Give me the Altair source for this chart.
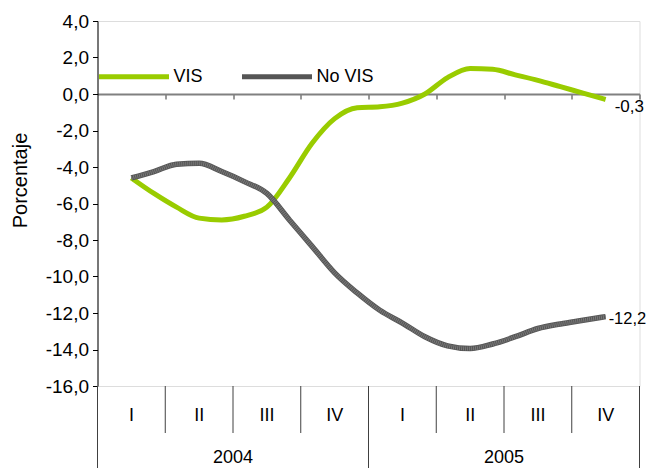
import altair as alt
import pandas as pd

# ---- data ----
series_names = ["VIS", "No VIS"]
quarter_labels = ["I", "II", "III", "IV", "I", "II", "III", "IV"]
quarter_centers = [0.5, 1.5, 2.5, 3.5, 4.5, 5.5, 6.5, 7.5]
year_labels = ["2004", "2005"]
year_centers = [2, 6]
quarter_bounds = [1, 2, 3, 5, 6, 7]
year_bounds = [0, 4, 8]
# positions in quarter units (monthly steps, Q1-2004 centre .. Q4-2005 centre)
positions = [0.5, 0.833, 1.167, 1.5, 1.833, 2.167, 2.5, 2.833, 3.167, 3.5, 3.833,
             4.167, 4.5, 4.833, 5.167, 5.5, 5.833, 6.167, 6.5, 6.833, 7.167, 7.5]
vis = [-4.6, -5.45, -6.2, -6.8, -6.9, -6.7, -6.2, -4.6, -2.7, -1.35, -0.75,
       -0.7, -0.5, 0.0, 0.9, 1.4, 1.35, 1.05, 0.75, 0.4, 0.05, -0.3]
no_vis = [-4.6, -4.25, -3.85, -3.8, -4.25, -4.8, -5.45, -6.9, -8.35, -9.8, -10.9,
          -11.85, -12.55, -13.3, -13.8, -13.95, -13.7, -13.3, -12.85, -12.6, -12.4, -12.2]
y_ticks = [-16, -14, -12, -10, -8, -6, -4, -2, 0, 2, 4]

GREEN = "#99CC00"
GRAY = "#555555"
FONT = "Liberation Sans"

def fmt(v):
    return f"{v:.1f}".replace(".", ",")

df = pd.DataFrame({
    "pos": positions * 2,
    "value": vis + no_vis,
    "series": ["VIS"] * len(vis) + ["No VIS"] * len(no_vis),
})
ends = pd.DataFrame({
    "pos": [positions[-1], positions[-1]],
    "value": [vis[-1], no_vis[-1]],
    "series": series_names,
    "label": [fmt(vis[-1]), fmt(no_vis[-1])],
})
qdf = pd.DataFrame({"pos": quarter_centers, "label": quarter_labels})
ydf = pd.DataFrame({"pos": year_centers, "label": year_labels})
qb = pd.DataFrame({"pos": quarter_bounds})
yb = pd.DataFrame({"pos": year_bounds})

xscale = alt.Scale(domain=[0, 8], nice=False, zero=False)
yscale = alt.Scale(domain=[-16, 4], nice=False, zero=False)
cscale = alt.Scale(domain=series_names, range=[GREEN, GRAY])

x_axis = alt.Axis(
    orient="bottom", offset=-292, values=[1, 2, 3, 4, 5, 6, 7, 8], labels=False,
    title=None, grid=False, domainColor="#808080", domainWidth=2,
    tickColor="#333333", tickSize=5, tickWidth=1,
)
y_axis = alt.Axis(
    values=y_ticks, grid=False, domainColor="black", domainWidth=1,
    tickColor="black", tickSize=5, labelFontSize=19, labelFont=FONT,
    labelColor="black", labelPadding=4, labelOverlap=False, labelBound=False,
    labelExpr="(datum.value < 0 ? '-' : '') + replace(format(abs(datum.value), '.1f'), '.', ',')",
    title="Porcentaje", titleFont=FONT, titleFontSize=20, titleFontWeight="normal",
    titleColor="black", titleAngle=-90, titleAlign="center", titleBaseline="alphabetic",
    titleX=-71, titleY=159,
)
legend = alt.Legend(
    orient="none", legendX=-1, legendY=18, direction="horizontal",
    title=None, symbolType="stroke", symbolSize=4900, symbolStrokeWidth=5,
    labelFontSize=18, labelFont=FONT, labelColor="black",
    columnPadding=28, labelOffset=2,
)

X = alt.X("pos:Q", scale=xscale, axis=x_axis)
Y = alt.Y("value:Q", scale=yscale, axis=y_axis)

base = alt.Chart(df)

line_vis = base.transform_filter(alt.datum.series == "VIS").mark_line(
    strokeWidth=5, interpolate="monotone"
).encode(
    x=X, y=Y,
    color=alt.Color("series:N", scale=cscale, legend=legend),
)
line_novis = base.transform_filter(alt.datum.series == "No VIS").mark_line(
    strokeWidth=5.5, interpolate="monotone"
).encode(
    x=X, y=Y,
    color=alt.Color("series:N", scale=cscale, legend=legend),
)
texture = base.transform_filter(alt.datum.series == "No VIS").mark_line(
    strokeWidth=4, strokeDash=[1, 1], color="#7a7a7a", interpolate="monotone"
).encode(x=X, y=Y)

end_vis = alt.Chart(ends).transform_filter(alt.datum.series == "VIS").mark_text(
    align="left", baseline="middle", dx=9, dy=8, fontSize=17, font=FONT, color="black"
).encode(x=X, y=Y, text="label:N")

end_novis = alt.Chart(ends).transform_filter(alt.datum.series == "No VIS").mark_text(
    align="left", baseline="middle", dx=3, dy=2, fontSize=16.5, font=FONT, color="black"
).encode(x=X, y=Y, text="label:N")

q_text = alt.Chart(qdf).mark_text(
    align="center", baseline="middle", fontSize=18, font=FONT, color="black"
).encode(x=X, y=alt.value(395), text="label:N")

y_text = alt.Chart(ydf).mark_text(
    align="center", baseline="middle", fontSize=18, font=FONT, color="black"
).encode(x=X, y=alt.value(437), text="label:N")

q_rules = alt.Chart(qb).mark_rule(color="#404040", strokeWidth=1).encode(
    x=X, y=alt.value(365), y2=alt.value(412)
)
y_rules = alt.Chart(yb).mark_rule(color="#404040", strokeWidth=1).encode(
    x=X, y=alt.value(365), y2=alt.value(470)
)

chart = alt.layer(
    line_vis, q_rules, y_rules, q_text, y_text, line_novis, texture, end_vis, end_novis
).properties(
    width=542, height=365,
    padding={"left": 89.5, "top": 13, "right": 8.5, "bottom": 82},
    autosize=alt.AutoSizeParams(type="none"),
).configure_view(stroke=None).configure(background="white")

chart.save("out.html", embed_options={"renderer": "svg", "actions": False})
